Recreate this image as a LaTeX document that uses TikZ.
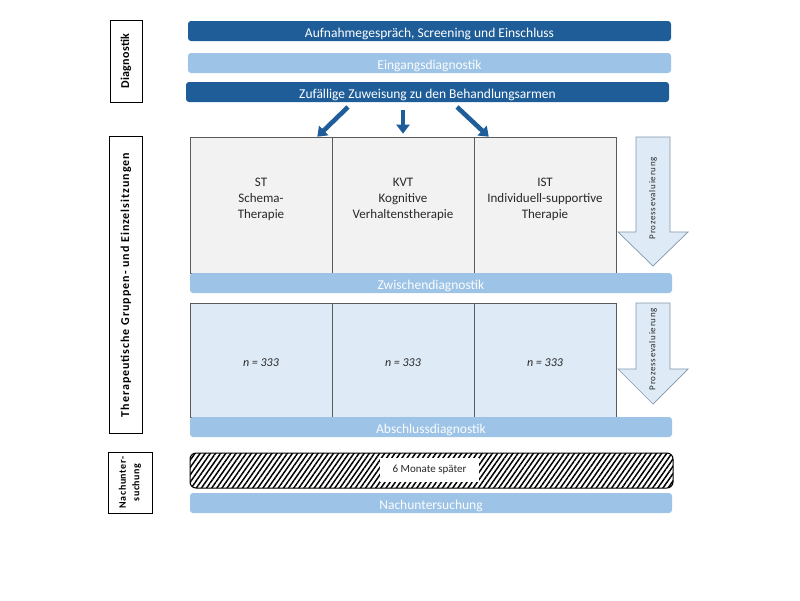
\documentclass[tikz,border=0pt]{standalone}
\usepackage{fontspec}
\setmainfont{Carlito}
\usetikzlibrary{arrows.meta,patterns.meta,calc}
\definecolor{dkblue}{RGB}{31,93,153}
\definecolor{ltblue}{RGB}{157,195,230}
\definecolor{paleblue}{RGB}{222,235,247}
\definecolor{palegray}{RGB}{242,242,242}
\definecolor{edgegray}{RGB}{90,90,90}
\definecolor{arrowedge}{RGB}{130,150,170}
\definecolor{txtgray}{RGB}{40,40,40}
\begin{document}
\begin{tikzpicture}[x=1pt,y=-1pt,
  bartext/.style={font=\fontsize{13.5}{15}\selectfont, text=white, inner sep=0pt, rounded corners=3pt,
     text height=12pt, text depth=0pt},
  darkbar/.style={bartext, fill=dkblue},
  lightbar/.style={bartext, fill=ltblue, text=white!96!ltblue},
  sidelabel/.style={draw=black, line width=0.8pt, fill=white, rotate=90, inner sep=0pt, align=center,
     font=\fontsize{12}{13}\selectfont\bfseries\addfontfeatures{LetterSpace=8}},
  cell/.style={draw=edgegray, line width=0.6pt, minimum width=142pt, inner sep=0pt},
  celltext/.style={inner sep=0pt, align=center, text=txtgray, font=\fontsize{13}{16}\selectfont},
  bigarrow/.style={draw=arrowedge, line width=0.7pt, fill=paleblue},
  evaltext/.style={rotate=90, inner sep=0pt, text=txtgray, font=\fontsize{9}{10}\selectfont\addfontfeatures{LetterSpace=8}},
  bluearrow/.style={draw=dkblue, line width=4.6pt, -{Triangle[width=13pt,length=9pt]}}
]
\useasboundingbox[fill=white] (0,0) rectangle (800,600);

% side labels
\node[sidelabel, minimum width=82pt, minimum height=32pt,
      font=\fontsize{12}{13}\selectfont\bfseries\addfontfeatures{LetterSpace=2}] (ldiag) at (126,61) {Diagnostik};
\node[sidelabel, minimum width=297pt, minimum height=33pt] (lther) at (126,285) {Therapeutische Gruppen- und Einzelsitzungen};
\node[sidelabel, minimum width=61pt, minimum height=44pt,
      font=\fontsize{10}{13.5}\selectfont\bfseries\addfontfeatures{LetterSpace=6}] (lnach) at (130,482.5) {Nachunter-\\suchung};

% top bars
\node[darkbar, minimum width=483pt, minimum height=20pt] (b1) at (429.5,31) {Aufnahmegespräch, Screening und Einschluss};
\node[lightbar, minimum width=483pt, minimum height=20pt] (b2) at (429.5,63) {Eingangsdiagnostik};
\node[darkbar, minimum width=483pt, minimum height=20pt] (b3) at (427.5,92) {Zufällige Zuweisung zu den Behandlungsarmen};

% upper cells
\node[cell, fill=palegray, minimum height=136pt] (st) at (261,205) {};
\node[cell, fill=palegray, minimum height=136pt] (kvt) at (403,205) {};
\node[cell, fill=palegray, minimum height=136pt] (ist) at (545,205) {};
\node[celltext] (stt) at (261,199) {ST\\Schema-\\Therapie};
\node[celltext] (kvtt) at (403,199) {KVT\\Kognitive\\Verhaltenstherapie};
\node[celltext] (istt) at (545,199) {IST\\Individuell-supportive\\Therapie};

% lower cells
\node[cell, fill=paleblue, minimum height=114pt] (n1) at (261,360) {};
\node[cell, fill=paleblue, minimum height=114pt] (n2) at (403,360) {};
\node[cell, fill=paleblue, minimum height=114pt] (n3) at (545,360) {};
\node[celltext, font=\fontsize{12}{14}\selectfont\itshape] (n1t) at (261,363) {n = 333};
\node[celltext, font=\fontsize{12}{14}\selectfont\itshape] (n2t) at (403,363) {n = 333};
\node[celltext, font=\fontsize{12}{14}\selectfont\itshape] (n3t) at (545,363) {n = 333};

% arrows from allocation bar
\coordinate (a1s) at (348,107);
\coordinate (a2s) at (403,110);
\coordinate (a3s) at (457,107);
\draw[bluearrow] (a1s) -- ($(st.north east)+(-15,0)$);
\draw[bluearrow] (a2s) -- ($(kvt.north)+(0,-3)$);
\draw[bluearrow] (a3s) -- ($(ist.north west)+(15,0)$);

% process evaluation arrows
\draw[bigarrow] (636,137) -- (670,137) -- (670,232) -- (688,232) -- (653,266) -- (618,232) -- (636,232) -- cycle;
\node[evaltext] (pe1) at (653,198) {Prozessevaluierung};
\draw[bigarrow] (636,303) -- (670,303) -- (670,369) -- (688,369) -- (653,404) -- (618,369) -- (636,369) -- cycle;
\node[evaltext] (pe2) at (653,349) {Prozessevaluierung};

% diagnostic bars
\node[lightbar, minimum width=482pt, minimum height=20pt] (zw) at (431,283) {Zwischendiagnostik};
\node[lightbar, minimum width=482pt, minimum height=20pt] (ab) at (431,427) {Abschlussdiagnostik};

% follow-up
\node[draw=black, line width=1pt, rounded corners=6pt, minimum width=483pt, minimum height=35pt, inner sep=0pt,
      pattern={Lines[angle=55,distance=4.2pt,line width=1.5pt]}] (hatch) at (431.5,470.5) {};
\node[fill=white, minimum width=99pt, minimum height=24pt, inner sep=0pt, text=txtgray,
      font=\fontsize{11}{12}\selectfont] (later) at (429.5,470) {6 Monate später};
\node[lightbar, minimum width=482pt, minimum height=20pt] (nu) at (431,503) {Nachuntersuchung};
\end{tikzpicture}
\end{document}
